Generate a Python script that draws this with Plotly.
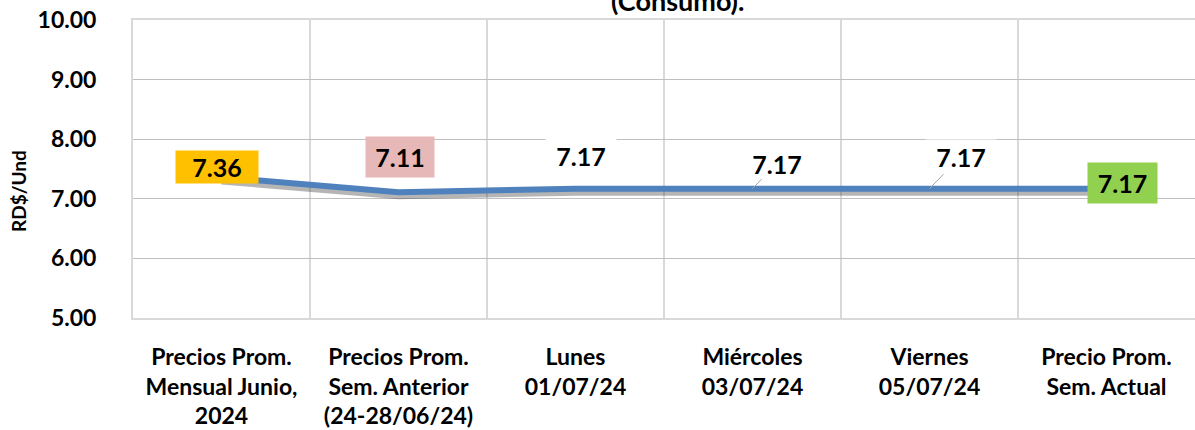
import plotly.graph_objects as go

categories = [
    "Precios Prom.<br>Mensual Junio,<br>2024",
    "Precios Prom.<br>Sem. Anterior<br>(24-28/06/24)",
    "Lunes<br>01/07/24",
    "Miércoles<br>03/07/24",
    "Viernes<br>05/07/24",
    "Precio Prom.<br>Sem. Actual",
]
values = [7.36, 7.11, 7.17, 7.17, 7.17, 7.17]
label_colors = ["#FFC000", "#E6B8B7", "white", "white", "white", "#92D050"]
# (xshift, yshift, leader line, box width, box height)
label_style = [(-5, 10, False, 82, 32), (1, 35, False, 68, 40), (5, 33, False, 70, 40),
               (24, 25, True, 56, 30), (31, 32, True, 70, 34), (16, 6, False, 69, 40)]
yticks = [5, 6, 7, 8, 9, 10]

FONT = "Lato"

fig = go.Figure()
# soft shadow under the line
fig.add_trace(go.Scatter(x=categories, y=[v - 0.06 for v in values], mode="lines",
                         line=dict(color="rgba(70,70,70,0.4)", width=7),
                         hoverinfo="skip", showlegend=False))
fig.add_trace(go.Scatter(x=categories, y=values, mode="lines",
                         line=dict(color="#4F81BD", width=6),
                         showlegend=False))

for i, v in enumerate(values):
    dx, dy, arrow, bw, bh = label_style[i]
    common = dict(x=i, y=v, text=f"<b>{v:.2f}</b>", bgcolor=label_colors[i],
                  borderpad=0, width=bw, height=bh,
                  font=dict(family=FONT, size=25, color="black"))
    if arrow:
        fig.add_annotation(showarrow=True, ax=dx, ay=-dy, arrowhead=0,
                           arrowcolor="#A6A6A6", arrowwidth=1, **common)
    else:
        fig.add_annotation(showarrow=False, xshift=dx, yshift=dy, **common)

fig.add_annotation(text="<b>(Consumo).</b>", xref="paper", yref="paper",
                   x=(677 - 133) / 1062, y=1 + 1 / 298, xanchor="center", yanchor="bottom",
                   showarrow=False, font=dict(family=FONT, size=27, color="black"))
fig.add_annotation(text="<b>RD$/Und</b>", xref="paper", yref="paper",
                   x=(18 - 133) / 1062, y=(318 - 191) / 298, xanchor="center", yanchor="middle",
                   textangle=-90, showarrow=False,
                   font=dict(family=FONT, size=19, color="black"))

fig.update_xaxes(type="category", range=[-0.5, len(categories) - 0.5],
                 tickson="boundaries", showgrid=True, gridcolor="#D9D9D9", gridwidth=1.5,
                 showline=True, linecolor="#D9D9D9", linewidth=2, mirror=True,
                 ticks="", ticklabelstandoff=17,
                 tickfont=dict(family=FONT, size=23, color="black", weight="bold"))
fig.update_yaxes(range=[5, 10], tickvals=yticks, tickformat=".2f",
                 showgrid=True, gridcolor="#BFBFBF", gridwidth=1,
                 showline=True, linecolor="#D9D9D9", linewidth=2, mirror=True,
                 ticks="", ticklabelstandoff=30, zeroline=False,
                 tickfont=dict(family=FONT, size=23, color="black", weight="bold"))

fig.update_layout(width=1195, height=430, margin=dict(l=133, r=0, t=20, b=112, autoexpand=False),
                  plot_bgcolor="white", paper_bgcolor="white",
                  font=dict(family=FONT))
fig.write_html("out.html", config={"displayModeBar": False},
               post_script="document.body.style.margin='0';")
